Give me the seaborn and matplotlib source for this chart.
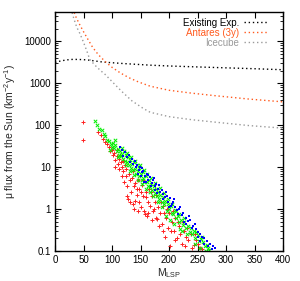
import numpy as np
import pandas as pd
import matplotlib
matplotlib.use("Agg")
import matplotlib.pyplot as plt
import seaborn as sns

# ---- data ----
exist_x = [0, 10, 20, 30, 40, 50, 60, 84, 120, 167, 200, 250, 300, 350, 400]
exist_y = [3150, 3400, 3600, 3700, 3700, 3650, 3550, 3200, 2950, 2700, 2580, 2450, 2330, 2220, 2100]

antares_x = [31, 36, 42, 50, 58, 66, 76, 88, 100, 115, 130, 146, 167, 200, 240, 284, 340, 400]
antares_y = [60000, 40000, 27000, 17000, 11000, 7200, 4800, 3300, 2400, 1750, 1350, 1080, 850, 680, 580, 500, 420, 360]

icecube_x = [28, 33, 38, 44, 50, 56, 61, 70, 80, 88, 100, 117, 135, 155, 167, 200, 240, 284, 340, 400]
icecube_y = [60000, 35000, 22000, 15000, 9500, 5800, 3700, 2700, 2000, 1620, 1100, 640, 380, 250, 203, 160, 135, 117, 98, 85]

red_x = [49, 49, 75, 80, 84, 88, 91, 95, 97, 100, 102, 104, 106, 108, 110, 112, 113, 115, 117, 118,
         120, 121, 123, 125, 126, 128, 129, 131, 133, 135, 137, 138, 140, 141, 143, 145, 147, 148, 150, 152,
         154, 156, 158, 160, 161, 163, 165, 167, 170, 172, 175, 177, 179, 181, 184, 187, 190, 193, 195, 198,
         200, 202, 205, 208, 211, 214, 218, 222, 226, 230, 234, 238, 243, 248, 254, 258,
         105, 109, 114, 119, 124, 127, 132, 136, 139, 144, 146, 151, 155, 159, 164, 168, 171, 174, 178, 183,
         186, 189, 192, 197, 203, 207, 210, 216, 220, 224, 228, 232, 240, 245, 251]
red_y = [120, 44, 68, 58, 46, 40, 35, 30, 24, 26, 19, 22, 15, 18, 12, 16, 9, 13, 6, 10,
         8, 4.5, 11, 6, 3.5, 1.7, 7, 4.8, 2.5, 5.5, 1.3, 3.5, 1.6, 4.2, 2.2, 5, 1.5, 3, 1.1, 3.8,
         2, 0.9, 0.76, 2.6, 0.68, 1.5, 3, 1.2, 2, 0.9, 1.5, 0.6, 0.58, 1.1, 0.8, 0.45, 1.2, 0.22, 0.6, 0.35,
         0.8, 0.13, 0.5, 0.3, 0.6, 0.2, 0.4, 0.15, 0.3, 0.22, 0.18, 0.25, 0.14, 0.18, 0.12, 0.11,
         10, 25, 20, 14, 9, 2, 1.5, 8, 1.0, 3, 0.9, 2.5, 5, 1.9, 0.8, 2.5, 0.55, 1.0, 2.2, 0.4,
         1.5, 0.3, 0.8, 1.0, 0.3, 0.9, 0.18, 0.5, 0.25, 0.5, 0.13, 0.35, 0.12, 0.25, 0.15]

green_x = [70, 74, 78, 82, 86, 88, 92, 95, 98, 100, 102, 104, 106, 108, 110, 112, 114, 116, 118, 120,
           121, 123, 125, 127, 128, 130, 132, 133, 135, 137, 138, 140, 142, 143, 145, 147, 148, 150, 152, 154,
           155, 157, 159, 161, 163, 165, 167, 169, 171, 173, 175, 177, 179, 181, 183, 185, 187, 189, 191, 193,
           196, 198, 200, 203, 205, 207, 210, 212, 215, 217, 219, 221, 224, 227, 230, 233, 236, 240, 243, 246,
           250, 253, 256, 260, 263, 266, 268, 270,
           96, 105, 111, 117, 124, 126, 131, 134, 139, 141, 146, 149, 153, 156, 160, 162, 166, 168, 172, 176,
           180, 184, 188, 192, 195, 199, 202, 206, 209, 213, 218, 223, 226, 232, 238, 245, 248, 255, 258, 265]
green_y = [125, 100, 80, 75, 62, 55, 45, 42, 36, 30, 38, 28, 33, 24, 27, 20, 24, 18, 21, 16,
           24, 14, 19, 13, 17, 11, 15, 9.5, 12, 8.5, 13, 9, 7, 11, 8, 6, 9.5, 6.8, 5, 7.5,
           5.5, 4.3, 6, 4.5, 3.5, 5, 3.3, 4, 2.8, 3.6, 2.4, 3, 2, 2.6, 1.7, 2.2, 1.5, 1.9, 1.3, 1.6,
           0.9, 1.3, 1.0, 1.2, 0.8, 0.76, 0.95, 0.6, 0.7, 0.5, 0.33, 0.55, 0.42, 0.5, 0.35, 0.4, 0.28, 0.25, 0.3, 0.2,
           0.24, 0.17, 0.19, 0.16, 0.13, 0.14, 0.12, 0.105,
           25, 45, 17, 28, 11, 22, 8, 17, 6.5, 14, 5, 11, 4, 8.5, 3, 7, 2.5, 5.5, 2, 4.2,
           1.5, 3.2, 1.1, 2.4, 0.7, 1.7, 0.55, 1.3, 0.45, 0.9, 0.75, 0.3, 0.6, 0.25, 0.35, 0.15, 0.28, 0.12, 0.22, 0.1]

blue_x = [114, 117, 120, 123, 127, 130, 132, 135, 137, 140, 142, 144, 147, 149, 150, 152, 155, 158, 160, 161,
          164, 167, 170, 172, 175, 175, 178, 181, 184, 187, 190, 193, 196, 199, 200, 202, 205, 207, 210, 214,
          218, 222, 225, 229, 230, 233, 237, 242, 247, 251, 254, 255, 258, 262, 266, 272, 277, 281,
          145, 153, 157, 163, 168, 173, 179, 183, 189, 194, 203, 209, 216, 220, 227, 235, 240, 245, 250, 261,
          268, 275]
blue_y = [30, 25, 18, 23, 17, 19, 13, 15.5, 12, 14, 10, 11.5, 8.5, 10, 6, 7.5, 8, 6, 4.5, 6.8,
          5, 5.8, 4.2, 4.8, 3.5, 2.8, 4.0, 3.0, 2.5, 2.9, 2.3, 1.9, 2.1, 1.5, 1.1, 1.8, 1.3, 1.5, 1.1, 0.95,
          1.0, 0.72, 0.8, 0.6, 0.45, 0.52, 0.55, 0.4, 0.33, 0.28, 0.25, 0.17, 0.22, 0.2, 0.17, 0.15, 0.13, 0.12,
          7, 9.5, 4.5, 6.5, 3.6, 5.5, 2.4, 3.8, 1.7, 2.6, 1.2, 1.7, 0.75, 1.1, 0.5, 0.7, 0.35, 0.45, 0.22, 0.15,
          0.13, 0.11]

labels = ["Existing Exp.", "Antares (3y)", "Icecube"]
xticks = [0, 50, 100, 150, 200, 250, 300, 350, 400]
yticks = [0.1, 1, 10, 100, 1000, 10000]
ytick_labels = ["0.1", "1", "10", "100", "1000", "10000"]

# ---- style ----
sns.set_style("ticks")
plt.rcParams["font.family"] = ["Liberation Sans", "DejaVu Sans"]
plt.rcParams["mathtext.fontset"] = "custom"
plt.rcParams["mathtext.rm"] = "Liberation Sans"
plt.rcParams["mathtext.it"] = "Liberation Sans"

fig = plt.figure(figsize=(3.0, 2.81), dpi=100)
ax = fig.add_axes([55/300, 1-251/281, 228/300, 239/281])

line_colors = ["#000000", "#ff5a1e", "#9a9a9a"]
dot = (0, (1.0, 2.0))

curves = pd.concat([
    pd.DataFrame({"x": exist_x, "y": exist_y, "s": labels[0]}),
    pd.DataFrame({"x": antares_x, "y": antares_y, "s": labels[1]}),
    pd.DataFrame({"x": icecube_x, "y": icecube_y, "s": labels[2]}),
])

for lab, col in zip(labels, line_colors):
    d = curves[curves["s"] == lab]
    sns.lineplot(data=d, x="x", y="y", ax=ax, color=col, lw=1.0,
                 linestyle=dot, label=lab, sort=False, estimator=None)

sns.scatterplot(x=red_x, y=red_y, ax=ax, marker="+", color="#ff2020", s=6,
                linewidth=0.7, legend=False)
sns.scatterplot(x=green_x, y=green_y, ax=ax, marker="x", color="#00ee00", s=6,
                linewidth=0.7, legend=False)
sns.scatterplot(x=blue_x, y=blue_y, ax=ax, marker="s", color="#0000ff", s=3.5,
                linewidth=0, legend=False)

ax.set_yscale("log")
ax.set_xlim(0, 400)
ax.set_ylim(0.1, 50000)
ax.set_xticks(xticks)
ax.set_xticklabels([str(v) for v in xticks])
ax.set_yticks(yticks)
ax.set_yticklabels(ytick_labels)
ax.tick_params(which="both", direction="in", top=True, right=True, labelsize=7,
               colors="#000000", pad=3)
ax.tick_params(which="major", length=4, width=0.8)
ax.tick_params(which="minor", length=2, width=0.6)
ax.tick_params(axis="x", which="minor", bottom=False, top=False)
for sp in ax.spines.values():
    sp.set_linewidth(1.0)
    sp.set_color("#000000")

ax.set_xlabel(r"M$_{\mathrm{LSP}}$", fontsize=7.5, labelpad=1)
ax.set_ylabel(r"μ flux from the Sun (km$^{-2}$y$^{-1}$)", fontsize=7.5, labelpad=4)

leg = ax.legend(loc="upper right", bbox_to_anchor=(0.97, 1.005), frameon=False,
                markerfirst=False, fontsize=7, handlelength=2.6, labelspacing=0.0,
                borderaxespad=0.3, handletextpad=0.5)
for t, c in zip(leg.get_texts(), line_colors):
    t.set_color(c)

fig.savefig("out.png", dpi=100)
